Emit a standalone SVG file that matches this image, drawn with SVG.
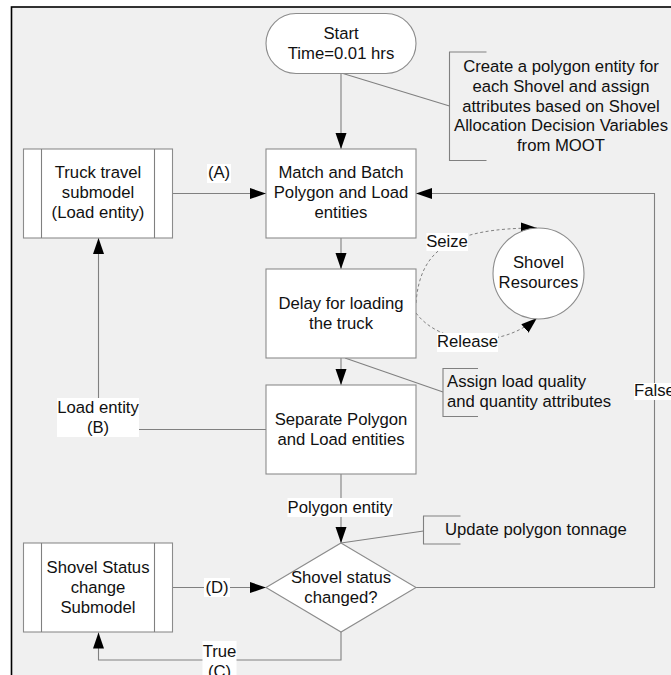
<svg xmlns="http://www.w3.org/2000/svg" width="671" height="675" viewBox="0 0 671 675">
  <style>
    .frame{fill:#f0f0f0;stroke:#000;stroke-width:1.6}
    .box{fill:#fff;stroke:#8c8c8c;stroke-width:1.1}
    .ln{fill:none;stroke:#808080;stroke-width:1.1}
    .dash{fill:none;stroke:#808080;stroke-width:1;stroke-dasharray:3 2.5}
    .lblbg{fill:#fff}
    text{font-family:"Liberation Sans",Arial,Helvetica,sans-serif;font-size:16.7px;fill:#111;text-anchor:middle}
    .left{text-anchor:start}
  </style>
  <defs>
    <marker id="arrow" markerUnits="userSpaceOnUse" markerWidth="17" markerHeight="12" refX="16" refY="6" orient="auto">
      <path d="M0,0.5 L16,6 L0,11.5 Z" fill="#000"/>
    </marker>
  </defs>

  <!-- page and frame -->
  <rect x="0" y="0" width="671" height="675" fill="#fff"/>
  <rect class="frame" x="11.5" y="7" width="690" height="700"/>

  <!-- connectors -->
  <g id="connectors">
    <path class="ln" d="M341,73.5 V149" marker-end="url(#arrow)"/>
    <path class="ln" d="M172.5,193.5 H266" marker-end="url(#arrow)"/>
    <path class="ln" d="M341,238 V269" marker-end="url(#arrow)"/>
    <path class="ln" d="M341,358 V385" marker-end="url(#arrow)"/>
    <path class="ln" d="M266,429.5 H98.5 V238" marker-end="url(#arrow)"/>
    <path class="ln" d="M341,474 V543" marker-end="url(#arrow)"/>
    <path class="ln" d="M416,587.5 H654.5 V193.5 H416" marker-end="url(#arrow)"/>
    <path class="ln" d="M172.5,587.5 H266" marker-end="url(#arrow)"/>
    <path class="ln" d="M341,632 V660 H98.5 V632.5" marker-end="url(#arrow)"/>
    <path class="dash" d="M416,303 C420,250 450,228 537,228" marker-end="url(#arrow)"/>
    <path class="dash" d="M416,313 C440,345 500,350 537,318" marker-end="url(#arrow)"/>

    <!-- annotation leaders and brackets -->
    <path class="ln" d="M343,73.5 L449.5,106"/>
    <path class="ln" d="M486.5,52 H449.5 V160.5 H486.5"/>
    <path class="ln" d="M345,358 L443,392"/>
    <path class="ln" d="M478,368.5 H443 V416.5 H478"/>
    <path class="ln" d="M341,543 L423.5,531"/>
    <path class="ln" d="M460.5,516 H423.5 V544 H460.5"/>

    <!-- connector labels -->
    <rect class="lblbg" x="207" y="164" width="24" height="19"/>
    <text x="219" y="178">(A)</text>
    <rect class="lblbg" x="57" y="398" width="82" height="39"/>
    <text x="98" y="413">Load entity</text>
    <text x="98" y="433">(B)</text>
    <rect class="lblbg" x="426.5" y="233" width="41.5" height="18"/>
    <text x="447" y="246.5">Seize</text>
    <rect class="lblbg" x="437" y="333" width="61" height="19"/>
    <text x="467.5" y="347">Release</text>
    <rect class="lblbg" x="634" y="383" width="40" height="17"/>
    <text x="654.5" y="396">False</text>
    <rect class="lblbg" x="287.5" y="498" width="105.5" height="19"/>
    <text x="340" y="513">Polygon entity</text>
    <rect class="lblbg" x="204" y="578" width="26" height="19"/>
    <text x="217" y="592.5">(D)</text>
    <rect class="lblbg" x="202.5" y="641" width="34" height="40"/>
    <text x="219.5" y="656.5">True</text>
    <text x="219.5" y="676.5">(C)</text>
  </g>

  <!-- nodes -->
  <g id="start">
    <rect class="box" x="266" y="13.5" width="150" height="60" rx="30" ry="30"/>
    <text x="341" y="38.5">Start</text>
    <text x="341" y="58.5">Time=0.01 hrs</text>
  </g>

  <g id="truck-travel">
    <rect class="box" x="23.5" y="149" width="149" height="89"/>
    <path class="ln" d="M41.5,149 V238 M154.5,149 V238" stroke="#8c8c8c"/>
    <text x="98" y="178">Truck travel</text>
    <text x="98" y="198">submodel</text>
    <text x="98" y="218">(Load entity)</text>
  </g>

  <g id="match-batch">
    <rect class="box" x="266" y="149" width="150" height="89"/>
    <text x="341" y="178">Match and Batch</text>
    <text x="341" y="198">Polygon and Load</text>
    <text x="341" y="218">entities</text>
  </g>

  <g id="delay">
    <rect class="box" x="266" y="269" width="150" height="89"/>
    <text x="341" y="308.5">Delay for loading</text>
    <text x="341" y="328.5">the truck</text>
  </g>

  <g id="separate">
    <rect class="box" x="266" y="385" width="150" height="89"/>
    <text x="341" y="424.5">Separate Polygon</text>
    <text x="341" y="444.5">and Load entities</text>
  </g>

  <g id="decision">
    <polygon class="box" points="341,543 416,587.5 341,632 266,587.5"/>
    <text x="341" y="582.5">Shovel status</text>
    <text x="341" y="602.5">changed?</text>
  </g>

  <g id="shovel-status">
    <rect class="box" x="23.5" y="543" width="149" height="89"/>
    <path class="ln" d="M41.5,543 V632 M154.5,543 V632" stroke="#8c8c8c"/>
    <text x="98" y="572.5">Shovel Status</text>
    <text x="98" y="592.5">change</text>
    <text x="98" y="612.5">Submodel</text>
  </g>

  <g id="shovel-resources">
    <circle class="box" cx="538.5" cy="273.5" r="45.5"/>
    <text x="538.5" y="268">Shovel</text>
    <text x="538.5" y="288">Resources</text>
  </g>

  <g id="note-create">
    <text x="561" y="72">Create a polygon entity for</text>
    <text x="561" y="91.8">each Shovel and assign</text>
    <text x="561" y="111.5">attributes based on Shovel</text>
    <text x="561" y="131.2">Allocation Decision Variables</text>
    <text x="561" y="151">from MOOT</text>
  </g>

  <g id="note-assign">
    <text class="left" x="447" y="387">Assign load quality</text>
    <text class="left" x="447" y="407">and quantity attributes</text>
  </g>

  <g id="note-update">
    <text class="left" x="445" y="535">Update polygon tonnage</text>
  </g>
</svg>
